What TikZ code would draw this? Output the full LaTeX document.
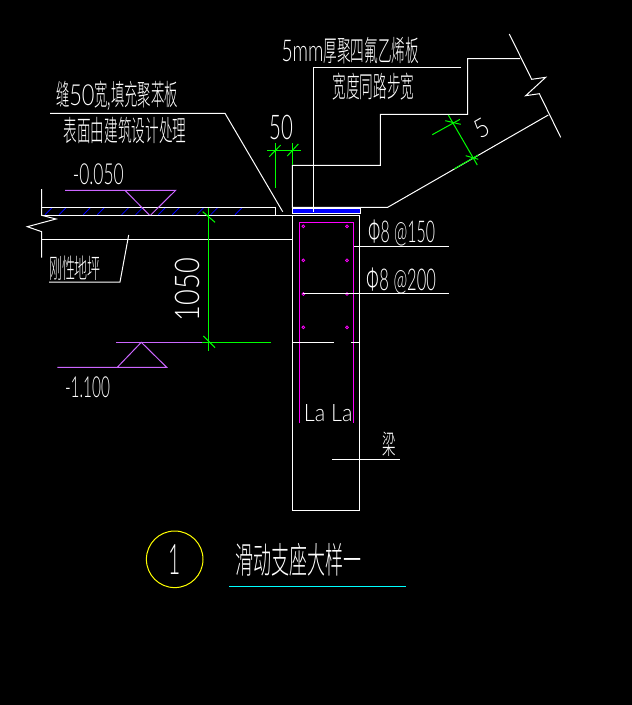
\documentclass[tikz,border=0pt]{standalone}
\usepackage{fontspec}
\newfontfamily\cjk[UprightFont=* Light]{Noto Sans CJK SC}
\newfontfamily\lat{Lato Light}
\newcommand{\cadtxt}[3]{\scalebox{#1}[1]{\fontsize{#2}{#2}\selectfont #3}}
\definecolor{viol}{RGB}{204,102,255}
\definecolor{dimgreen}{RGB}{0,255,0}
\definecolor{barmag}{RGB}{255,0,255}
\definecolor{hatchblue}{RGB}{0,0,255}
\definecolor{markyellow}{RGB}{255,255,0}
\definecolor{titlecyan}{RGB}{0,255,255}
\tikzset{
    wline/.style={white,line width=1pt},
    dimline/.style={dimgreen,line width=1pt},
    vline/.style={viol,line width=1pt},
    rebar/.style={barmag,line width=1pt},
    cad/.style={inner sep=0pt,text=white}
}
\begin{document}
\begin{tikzpicture}[x=1pt,y=-1pt]
    \fill[black] (0,0) rectangle (632,705);
    \useasboundingbox (0,0) rectangle (632,705);
    % floor
    \draw[wline] (41.7,189) -- (41.7,215.3) -- (56,219) -- (27.3,226.7) -- (41.7,231.7) -- (41.7,257.7);
    \foreach \hx in {45,59,83.3,97.3,121.7,135.7,158.3,172.3,196.7,210.7,235}
        \draw[hatchblue,line width=.8pt] (\hx,214.7) -- ++(7,-7);
    \draw[wline] (41.7,207.3) -- (275.7,207.3) -- (275.7,215.3);
    \draw[wline] (41.7,215.3) -- (359.3,215.3);
    \draw[wline] (41.7,239.3) -- (292.3,239.3);
    % stair
    \draw[wline] (520,58.7) -- (467.7,58.7) -- (467.7,114.3) -- (380.3,114.3) -- (380.3,165.3) -- (292.3,165.3) -- (292.3,207.3) -- (387.7,207.3) -- (548.3,115);
    \draw[wline] (509.3,34) -- (531.7,79.3) -- (545.7,77.3) -- (525.7,95.7) -- (539.3,93.7) -- (560.7,137.3);
    \filldraw[draw=white,fill=hatchblue,line width=1pt] (292.3,208.4) rectangle (360.7,213.7);
    % beam
    \draw[wline] (292.3,215.3) rectangle (359.3,510.3);
    \draw[rebar] (299.3,423.3) -- (299.3,222.7) -- (353.3,222.7) -- (353.3,423);
    \foreach \ry in {226.3,260.3,294,327.3}{
        \draw[barmag,line width=.8pt] (303.3,\ry) circle (1.4);
        \draw[barmag,line width=.8pt] (347,\ry) circle (1.4);
    }
    \draw[wline] (292.3,342.3) -- (333.7,342.3);
    \draw[wline] (351,342.3) -- (359.3,342.3);
    % leaders
    \draw[wline] (461,67.3) -- (313.7,67.3) -- (313.7,211.7);
    \draw[wline] (50,113.3) -- (225,113.3) -- (282.7,211.7);
    \draw[wline] (128.7,235) -- (120,282) -- (49,282);
    \draw[wline] (354,246.3) -- (449,246.3);
    \draw[wline] (303.3,293.7) -- (449,293.7);
    \draw[wline] (332,459.3) -- (400,459.3);
    % levels
    \draw[vline] (65,190.3) -- (175.7,190.3) -- (150.7,215);
    \draw[vline] (125,190.3) -- (149.3,215);
    \draw[vline] (116,342.3) -- (201.7,342.3);
    \draw[vline] (57.3,367.3) -- (166.7,367.3) -- (141.3,342.3) -- (117.3,367.3);
    % dimensions
    \draw[dimline] (267.3,150.3) -- (300.7,150.3);
    \draw[dimline] (275.3,143.3) -- (275.3,187.7);
    \draw[dimline] (292.3,143.3) -- (292.3,165.3);
    \draw[dimline] (269.3,156.7) -- (280.7,145);
    \draw[dimline] (287.3,156) -- (298.3,144);
    \draw[dimline] (208.5,208.3) -- (208.5,350.7);
    \draw[dimline] (201.7,342.3) -- (270.7,342.3);
    \draw[dimline] (203.3,336) -- (215,347.7);
    \draw[dimline] (202.7,211.7) -- (215,222.3);
    \draw[dimline] (448.3,115) -- (477.3,165);
    \draw[dimline] (432.3,134.7) -- (460,119.3);
    \draw[dimline] (454,169) -- (478.3,155);
    \draw[dimline] (445.3,120.7) -- (460.7,124.3);
    \draw[dimline] (465.7,155.7) -- (478.3,159.3);
    % title
    \node[circle,draw=markyellow,line width=1pt,minimum size=56.6pt,inner sep=0pt,text=white](mark) at (174.7,559.3){\cadtxt{.5}{42}{\lat 1}\hspace{10pt}};
    \draw[titlecyan,line width=1pt] (229,586.3) -- (406,586.3);
    % labels
    \node[cad](plate) at (350.3,50.3){\cadtxt{.64}{30}{\lat 5mm}\cadtxt{.47}{29}{\cjk 厚聚四氟乙烯板}};
    \node[cad](width) at (373.5,86.5){\cadtxt{.47}{29}{\cjk 宽度同路步宽}};
    \node[cad](gap) at (117,96){\cadtxt{.46}{29}{\cjk 缝}\cadtxt{.75}{29}{\lat 50}\cadtxt{.46}{29}{\cjk 宽,填充聚苯板}};
    \node[cad](surface) at (125,130){\cadtxt{.47}{29}{\cjk 表面由建筑设计处理}};
    \node[cad](dimgap) at (281,127.5){\cadtxt{.6}{34}{\lat 50}};
    \node[cad](slab) at (75,268){\cadtxt{.48}{27}{\cjk 刚性地坪}};
    \node[cad](lvla) at (98.3,174.7){\cadtxt{.6}{29}{\lat -0.050}};
    \node[cad](lvlb) at (87.5,387.5){\cadtxt{.53}{29}{\lat -1.100}};
    \node[cad,rotate=90](dimh) at (187,289.5){\cadtxt{.8}{34}{\lat 1050}};
    \node[cad,rotate=30](dimstep) at (481.7,128.3){\cadtxt{.9}{26}{\lat 5}};
    \node[cad](rebara) at (401.7,232.5){\cadtxt{.53}{30}{{\cjk Φ}\lat 8 @150}};
    \node[cad](rebarb) at (401.3,281){\cadtxt{.55}{30}{{\cjk Φ}\lat 8 @200}};
    \node[cad](anchor) at (328.3,413.5){\cadtxt{.9}{24}{\lat La La}};
    \node[cad](beamname) at (389.7,444.7){\cadtxt{.5}{27}{\cjk 梁}};
    \node[cad](title) at (298.3,560){\cadtxt{.5}{36}{\cjk 滑动支座大样一}};
\end{tikzpicture}
\end{document}
